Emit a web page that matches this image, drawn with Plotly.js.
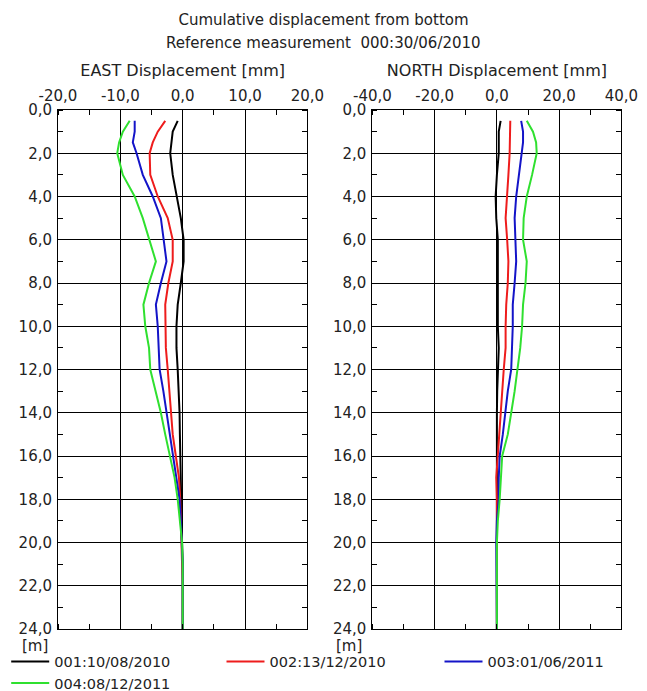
<!DOCTYPE html>
<html>
<head>
<meta charset="utf-8">
<script src="https://cdn.plot.ly/plotly-3.0.1.min.js"></script>
<style>html,body{margin:0;padding:0;background:#fff;}#chart{width:647px;height:691px;}</style>
</head>
<body>
<div id="chart"></div>
<script>
// Depth of readings [m]
const depths = [0.5,1,1.5,2,3,4,5,6,7,8,9,10,11,12,13,14,15,16,17,18,19,20,21,22,23,24];

// Series names
const seriesNames = ['001:10/08/2010','002:13/12/2010','003:01/06/2011','004:08/12/2011'];
const seriesColors = ['#000000','#ee1c1c','#1414c8','#2fe02f'];

// EAST displacement [mm]
const east001 = [-0.8,-1.6,-1.8,-2.0,-1.6,-1.0,-0.3,0.15,0.15,-0.3,-0.8,-1.0,-1.0,-0.8,-0.6,-0.5,-0.45,-0.4,-0.35,-0.3,-0.2,-0.1,0,0,0,0];
const east002 = [-2.8,-4.0,-4.8,-5.3,-5.2,-4.0,-2.4,-1.6,-1.6,-2.3,-2.8,-2.8,-2.7,-2.4,-2.1,-1.9,-1.6,-1.1,-0.6,-0.4,-0.3,-0.1,0,0,0,0];
const east003 = [-7.7,-7.7,-8.0,-7.4,-6.4,-4.8,-3.5,-3.1,-2.6,-3.5,-4.3,-4.0,-3.9,-3.7,-3.1,-2.6,-2.1,-1.6,-1.0,-0.5,-0.3,-0.1,0,0,0,0];
const east004 = [-8.5,-9.6,-10.2,-10.5,-9.6,-7.7,-6.4,-5.3,-4.3,-5.4,-6.3,-6.0,-5.4,-5.2,-4.3,-3.5,-2.8,-2.1,-1.3,-0.8,-0.5,-0.1,0,0,0,0];

// NORTH displacement [mm]
const north001 = [1.2,0.6,0.6,0.6,0,-0.4,-0.2,0.3,0.3,0.3,0.3,0.3,0.6,0.3,0.1,0,0,0,0,0,0,0,0,0,0,0];
const north002 = [4.3,4.3,4.2,4.1,3.7,3.3,2.8,3.3,3.7,3.5,3.0,2.8,2.8,2.2,1.7,1.4,0.9,0.3,-0.2,0,0,0,-0.2,0,0,0];
const north003 = [7.8,8.4,8.4,8.0,7.1,6.2,5.7,6.0,6.2,5.7,5.1,5.1,4.9,4.6,3.5,2.8,1.9,0.9,0.6,0.6,0,-0.2,-0.2,0,0,0];
const north004 = [9.6,11.6,12.6,12.8,11.3,9.6,8.6,8.4,9.6,9.2,8.4,8.1,7.5,6.7,5.7,4.6,3.5,1.7,1.4,0.9,0.3,0,0,0,0,0];

// Tick labels
const eastTickVals = [-20,-10,0,10,20];
const eastTickText = ['-20,0','-10,0','0,0','10,0','20,0'];
const northTickVals = [-40,-20,0,20,40];
const northTickText = ['-40,0','-20,0','0,0','20,0','40,0'];
const depthTickVals = [0,2,4,6,8,10,12,14,16,18,20,22,24];
const depthTickText = ['0,0','2,0','4,0','6,0','8,0','10,0','12,0','14,0','16,0','18,0','20,0','22,0','24,0'];

const eastSeries = [east001, east002, east003, east004];
const northSeries = [north001, north002, north003, north004];
const legendIds = ['legend', 'legend2', 'legend3', 'legend4'];

const FONT = 'DejaVu Sans, Verdana, sans-serif';
const TXT = '#222';
const traces = [];
eastSeries.forEach((vals, i) => {
  traces.push({x: vals, y: depths, xaxis: 'x', yaxis: 'y', type: 'scatter', mode: 'lines',
    name: seriesNames[i], legend: legendIds[i], showlegend: true,
    line: {color: seriesColors[i], width: 2}});
});
northSeries.forEach((vals, i) => {
  traces.push({x: vals, y: depths, xaxis: 'x2', yaxis: 'y2', type: 'scatter', mode: 'lines',
    name: seriesNames[i], legend: legendIds[i], showlegend: false,
    line: {color: seriesColors[i], width: 2}});
});

function xAx(range, vals, text, minorDt, domain, title, anchor) {
  return {
    domain: domain, range: range, anchor: anchor, side: 'top',
    tickmode: 'array', tickvals: vals, ticktext: text, ticks: '',
    showgrid: true, gridcolor: '#000', gridwidth: 1,
    zeroline: false, showline: true, linecolor: '#000', linewidth: 1, mirror: 'all',
    minor: {tickmode: 'linear', tick0: 0, dtick: minorDt, ticks: 'inside', ticklen: 5, tickcolor: '#000', showgrid: false},
    tickfont: {family: FONT, size: 15, color: TXT},
    ticklabelstandoff: 2,
    title: {text: title, font: {family: FONT, size: 16, color: TXT}, standoff: 6},
    fixedrange: true
  };
}
function yAx(anchor) {
  return {
    anchor: anchor, range: [24, 0],
    tickmode: 'array', tickvals: depthTickVals, ticktext: depthTickText, ticks: '',
    showgrid: true, gridcolor: '#000', gridwidth: 1,
    zeroline: false, showline: true, linecolor: '#000', linewidth: 1, mirror: 'all',
    minor: {tickmode: 'linear', tick0: 0, dtick: 1, ticks: 'inside', ticklen: 5, tickcolor: '#000', showgrid: false},
    tickfont: {family: FONT, size: 15, color: TXT},
    ticklabelstandoff: 2,
    fixedrange: true
  };
}

function legendAt(xpx, ypx) {
  return {orientation: 'h', x: (xpx - 58) / 589, xanchor: 'left', y: (629 - ypx) / 519, yanchor: 'middle',
    itemwidth: 38, font: {family: FONT, size: 14.5, color: TXT},
    bgcolor: 'rgba(0,0,0,0)', borderwidth: 0};
}

const layout = {
  width: 647, height: 691,
  margin: {l: 58, r: 0, t: 110, b: 62, autoexpand: false},
  paper_bgcolor: '#fff', plot_bgcolor: '#fff',
  font: {family: FONT, size: 14, color: TXT},
  title: {text: 'Cumulative displacement from bottom', x: 0.5, xanchor: 'center',
          y: 1 - 20 / 691, yanchor: 'middle', yref: 'container', font: {family: FONT, size: 15, color: TXT}},
  xaxis: xAx([-20, 20], eastTickVals, eastTickText, 5, [0, 0.4234], 'EAST Displacement [mm]', 'y'),
  yaxis: yAx('x'),
  xaxis2: xAx([-40, 40], northTickVals, northTickText, 10, [0.5338, 0.9565], 'NORTH Displacement [mm]', 'y2'),
  yaxis2: yAx('x2'),
  showlegend: true,
  legend: legendAt(6.2, 661.5),
  legend2: legendAt(221.5, 661.5),
  legend3: legendAt(439.5, 661.5),
  legend4: legendAt(6.2, 683),
  annotations: [
    {text: 'Reference measurement  000:30/06/2010', xref: 'paper', yref: 'paper',
     x: (323.5 - 58) / 589, xanchor: 'center',
     y: 1 + (110 - 43) / 519, yanchor: 'middle', showarrow: false, font: {family: FONT, size: 15, color: TXT}},
    {text: '[m]', xref: 'x domain', yref: 'y', x: 0, y: 24, xanchor: 'center', xshift: -23, yshift: -17,
     yanchor: 'middle', showarrow: false, font: {family: FONT, size: 15, color: TXT}},
    {text: '[m]', xref: 'x2 domain', yref: 'y2', x: 0, y: 24, xanchor: 'center', xshift: -23, yshift: -17,
     yanchor: 'middle', showarrow: false, font: {family: FONT, size: 15, color: TXT}}
  ]
};

Plotly.newPlot('chart', traces, layout, {displayModeBar: false, staticPlot: true});
</script>
</body>
</html>
